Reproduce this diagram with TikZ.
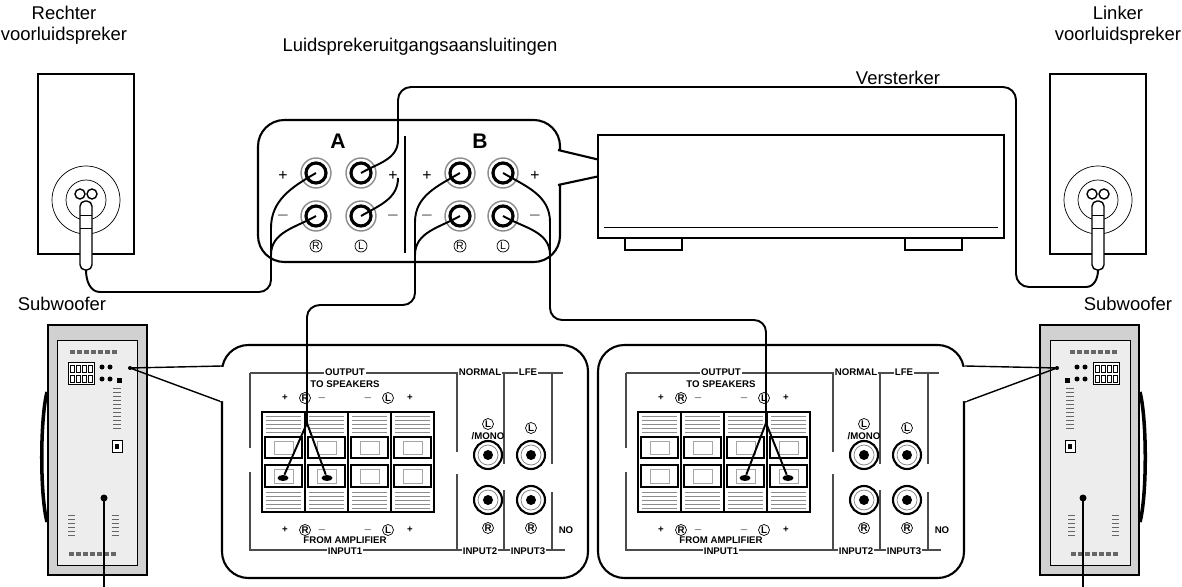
\documentclass[tikz,border=0pt]{standalone}
\usepackage{fontspec}
\setmainfont{Liberation Sans}
\usetikzlibrary{positioning,shapes.geometric}

% one front speaker, drawn at its left edge
\newcommand{\frontspeaker}[2]{%
  \begin{scope}[shift={(#1,0)}]
    \draw[thick] (38,74) rectangle (134,254);
    \draw (86,200) circle (34);
    \draw (86,200) circle (20);
    \draw[thick,fill=white] (80,194) circle (5) (92,194) circle (5);
    \draw[thick,fill=white,rounded corners=3] (80,201) rectangle (92,270);
    \draw (80,215) -- (92,215) (80,228) -- (92,228);
    \coordinate (#2) at (86,270);
  \end{scope}}

% one subwoofer seen from the back
\newcommand{\subwoofer}[2]{%
  \begin{scope}[shift={(#1,0)},xscale=#2]
    \draw[very thick,fill=black!18] (48,325) rectangle (147,575);
    \draw[fill=black!7] (57,340) rectangle (137,565);
    \draw[line width=2pt] (47,392) .. controls (40,420) and (40,495) .. (47,522);
    \foreach \i in {0,...,6} \fill[black!60] (70+7*\i,350) rectangle +(5,4);
    \draw[fill=white] (68,362) rectangle (94,384);
    \foreach \i in {0,...,3} \draw (70+6*\i,365) rectangle +(4,7) (70+6*\i,375) rectangle +(4,7);
    \foreach \i in {0,1} \fill (102+8*\i,367) circle (2.5) (102+8*\i,379) circle (2.5);
    \fill (117,378) rectangle (122,383);
    \foreach \y in {388,392,...,428} \draw[black!60] (113,\y) -- (121,\y);
    \draw[fill=white] (112,440) rectangle (122,452);
    \fill (115,444) rectangle (119,449);
    \foreach \y in {515,519,...,535} \draw[black!60] (68,\y) -- (75,\y) (112,\y) -- (119,\y);
    \foreach \i in {0,...,6} \fill[black!60] (69+7*\i,552) rectangle +(5,4);
  \end{scope}}

% back panel of a subwoofer, enlarged
\newcommand{\inputpanel}[4]{%
  \begin{scope}[shift={(#1,0)}]
    \draw[very thick,rounded corners=15,fill=white] (222,345) rectangle (588,578);
    \draw[frame] (250,373) -- (250,448) (250,472) -- (250,550) -- (457,550)
      (250,373) -- (563,373) (457,373) -- (457,452) (457,474) -- (457,550) -- (565,550)
      (504,373) -- (504,464) (504,490) -- (504,550)
      (552,373) -- (552,464) (552,492) -- (552,550);
    \node[tiny,fill=white] (#2out) at (345,372) {OUTPUT};
    \node[tiny] (#2to) at (345,384) {TO SPEAKERS};
    \node[tiny,fill=white] (#2nor) at (480,372) {NORMAL};
    \node[tiny,fill=white] (#2lfe) at (528,372) {LFE};
    \node[tiny,fill=white] (#2in1) at (345,551) {INPUT1};
    \node[tiny] (#2amp) at (345,540) {FROM AMPLIFIER};
    \node[tiny,fill=white] (#2in2) at (480,551) {INPUT2};
    \node[tiny,fill=white] (#2in3) at (528,551) {INPUT3};
    \node[tiny] (#2no) at (566,530) {NO};
    \foreach \x/\t in {285/+,305/R,322/$-$,368/$-$,388/L,410/+} {
      \node[tiny] at (\x,398) {\t};
      \node[tiny] at (\x,530) {\t};}
    \foreach \x in {305,388} {
      \draw[line width=0.4pt] (\x,398) circle (5.5);
      \draw[line width=0.4pt] (\x,530) circle (5.5);}
    \draw[very thick] (262,412) rectangle (434,512);
    \foreach \i in {0,...,3} {
      \draw[thick] (262+43*\i,412) rectangle +(43,100);
      \foreach \y in {416,420,...,432} \draw[black!45] (266+43*\i,\y) -- +(35,0);
      \foreach \y in {492,496,...,508} \draw[black!45] (266+43*\i,\y) -- +(35,0);
      \draw[thick] (265+43*\i,437) rectangle +(37,21);
      \draw[thick] (265+43*\i,465) rectangle +(37,22);
      \draw[black!35] (274+43*\i,441) rectangle +(19,13) (274+43*\i,469) rectangle +(19,14);}
    \node[dot] (#2d1) at (#3,478) {};
    \node[dot] (#2d2) at (#4,478) {};
    \foreach \n/\x/\y in {jl/488/455,jf/531/455,jr/488/500,jg/531/500} {
      \node[jack] (#2\n) at (\x,\y) {};
      \draw[black!50] (#2\n) circle (10);
      \fill (#2\n) circle (5);}
    \node[tiny] at (488,424) {L};
    \draw[line width=0.4pt] (488,424) circle (5.5);
    \node[tiny] at (488,436) {/MONO};
    \node[tiny] at (531,428) {L};
    \draw[line width=0.4pt] (531,428) circle (5.5);
    \foreach \x in {488,531} {
      \node[tiny] at (\x,528) {R};
      \draw[line width=0.4pt] (\x,528) circle (5.5);}
  \end{scope}}

\begin{document}
\begin{tikzpicture}[
    x=0.02cm, y=-0.02cm,
    wire/.style={line width=1.1pt},
    big/.style={font=\fontsize{10.5}{12}\selectfont, align=center},
    tiny/.style={font=\fontsize{5.5}{6}\selectfont\bfseries, inner sep=0.6pt},
    frame/.style={line width=1.3pt, black!70},
    post/.style={circle, draw=black!45, line width=0.8pt, fill=white, minimum size=0.6cm},
    jack/.style={circle, draw, line width=1.2pt, minimum size=0.56cm},
    dot/.style={ellipse, fill=black, minimum width=0.22cm, minimum height=0.12cm, inner sep=0pt},
    ]
    \useasboundingbox (0,0) rectangle (1182,587);

    % labels
    \node[big] (rechts) at (64,25) {Rechter\\voorluidspreker};
    \node[big] (links) at (1118,25) {Linker\\voorluidspreker};
    \node[big] (uitgang) at (420,47) {Luidsprekeruitgangsaansluitingen};
    \node[big] (versterker) at (898,78) {Versterker};
    \node[big] (sub1) at (62,304) {Subwoofer};
    \node[big] (sub2) at (1128,304) {Subwoofer};

    \frontspeaker{0}{lsplug}
    \frontspeaker{1012}{rsplug}

    % amplifier with terminal callout
    \draw[very thick,rounded corners=15] (258,120) rectangle (560,262);
    \fill[white] (555,151) rectangle (562,184);
    \draw[very thick] (558,150) -- (600,160) (558,185) -- (600,176);
    \draw[very thick,fill=white] (598,135) rectangle (1004,238);
    \draw (604,227) -- (998,227);
    \draw[thick,fill=white] (625,238) rectangle (682,250) (905,238) rectangle (962,250);
    \draw[thick] (405,136) -- (405,253);
    \node[font=\bfseries\large] (labA) at (338,141) {A};
    \node[font=\bfseries\large] (labB) at (480,141) {B};
    \foreach \n/\x/\y in {ARp/316/173,ALp/361/173,ARm/316/216,ALm/361/216,
                          BRp/460/173,BLp/503/173,BRm/460/216,BLm/503/216} {
      \node[post] (\n) at (\x,\y) {};
      \draw[line width=1.8pt] (\n) circle (10);}
    \foreach \x in {283,393,427,535} {
      \node[font=\small] at (\x,176) {+};
      \node[font=\small] at (\x,216) {$-$};}
    \foreach \x/\t in {316/R,361/L,460/R,503/L} {
      \node[tiny,font=\fontsize{6}{6}\selectfont] at (\x,246) {\t};
      \draw[line width=0.4pt] (\x,246) circle (6);}

    % subwoofers and their panels
    \subwoofer{0}{1}
    \subwoofer{1187}{-1}
    \draw[thick] (130,368) -- (222,366) (130,368) -- (222,402);
    \draw[thick] (1057,368) -- (965,366) (1057,368) -- (965,402);
    \inputpanel{0}{p}{283}{327}
    \inputpanel{376}{q}{369}{412}
    \fill[white] (220,367) rectangle (225,401) (962,367) rectangle (967,401);
    \fill (130,368) circle (2) (1057,368) circle (2);
    \coordinate (sjack1) at (104,498);
    \coordinate (sjack2) at (1083,498);
    \fill (sjack1) circle (3.5) (sjack2) circle (3.5);
    \draw[thick] (sjack1) -- (104,587) (sjack2) -- (1083,587);

    % speaker cables
    \draw[wire] (ARp.center) to[out=210,in=90] (271,228) -- (271,280)
      to[out=-90,in=0] (259,292) -- (100,292) to[out=180,in=-90] (lsplug);
    \draw[wire] (ARm.center) to[out=210,in=90] (271,255);
    \draw[wire] (ALp.center) to[out=30,in=-90] (398,140) -- (398,100)
      to[out=90,in=180] (411,87) -- (1003,87) to[out=0,in=90] (1016,100)
      -- (1016,274) to[out=-90,in=180] (1029,287) -- (1086,287)
      to[out=0,in=-90] (rsplug);
    \draw[wire] (ALm.center) to[out=30,in=-90] (398,178);
    \draw[wire] (BRp.center) to[out=210,in=90] (415,222) -- (415,293)
      to[out=-90,in=0] (403,305) -- (320,305) to[out=180,in=90] (307,317) -- (307,423);
    \draw[wire] (BRm.center) to[out=210,in=90] (415,255);
    \draw[wire] (307,423) -- (pd1) (307,423) -- (pd2);
    \draw[wire] (BLp.center) to[out=-30,in=90] (550,222) -- (550,308)
      to[out=-90,in=180] (562,320) -- (754,320) to[out=0,in=90] (766,332) -- (766,423);
    \draw[wire] (BLm.center) to[out=-30,in=90] (550,255);
    \draw[wire] (766,423) -- (qd1) (766,423) -- (qd2);
\end{tikzpicture}
\end{document}
